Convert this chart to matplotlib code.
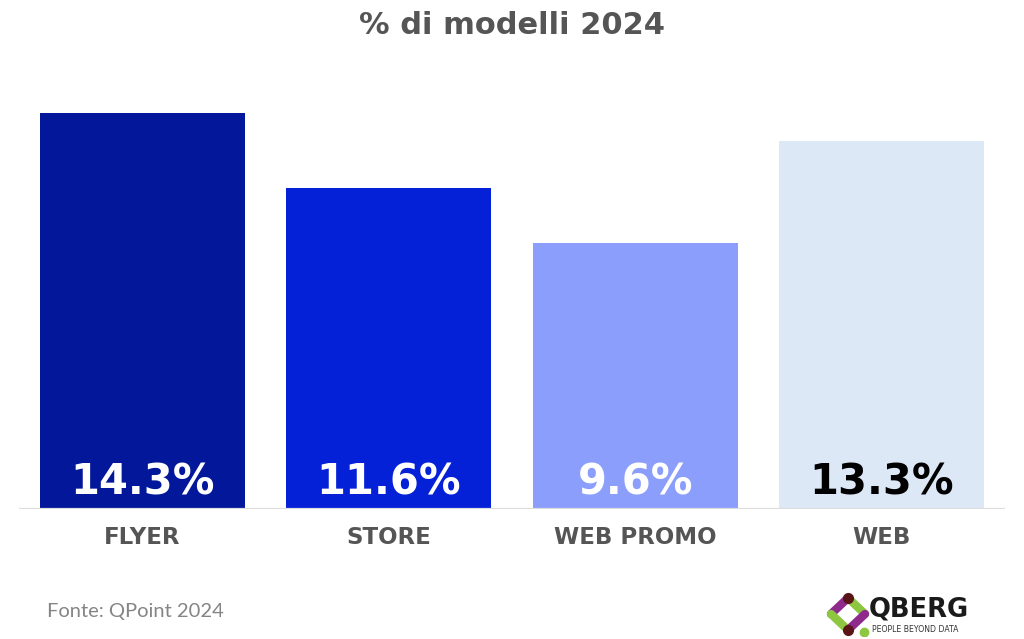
"""Bar chart: % di modelli 2024 per canale."""

import matplotlib

matplotlib.use("Agg")
import matplotlib.pyplot as plt

categories = ["FLYER", "STORE", "WEB PROMO", "WEB"]
values = [14.3, 11.6, 9.6, 13.3]
bar_colors = ["#03179A", "#0521D8", "#8C9EFC", "#DCE8F6"]
label_colors = ["white", "white", "white", "black"]

title = "% di modelli 2024"
source = "Fonte: QPoint 2024"

W, H = 1024, 639
fig = plt.figure(figsize=(W / 100, H / 100), dpi=100)
fig.patch.set_facecolor("white")

# main axes placed in pixel terms of the reference
ax = fig.add_axes([19 / W, 130 / H, 986 / W, 443 / H])
x = range(len(categories))
ax.bar(x, values, width=0.832, color=bar_colors, zorder=2)
ax.set_xlim(-0.5, len(categories) - 0.5)
ax.set_ylim(0, 16)
ax.axhline(0, color="#DDDDDD", lw=1.6, zorder=3)
for s in ax.spines.values():
    s.set_visible(False)
ax.set_yticks([])
ax.set_xticks(list(x))
ax.set_xticklabels(categories, fontsize=16.5, fontweight="bold", color="#555555")
ax.tick_params(axis="x", length=0, pad=12)

for xi, v, c in zip(x, values, label_colors):
    ax.text(xi, 0.95, f"{v:.1f}%", ha="center", va="center", fontsize=30,
            fontweight="bold", color=c, zorder=4)

fig.text(0.5, 1 - 26 / H, title, ha="center", va="center", fontsize=22,
         fontweight="bold", color="#555555")
fig.text(47 / W, 1 - 611 / H, source, ha="left", va="center", fontsize=14.5,
         family=["Lato", "DejaVu Sans"], color="#858585")

# logo
lax = fig.add_axes([826 / W, 1 - 636 / H, 48 / W, 44 / H])
lax.set_xlim(0, 48)
lax.set_ylim(0, 44)
lax.axis("off")
top, bottom, left, right = (22, 38), (22, 6), (5, 22), (39, 22)
segs = [(top, left, "#8E2A8C"), (top, right, "#8DC63F"),
        (left, bottom, "#8DC63F"), (right, bottom, "#8E2A8C")]
for a, b, col in segs:
    lax.plot([a[0], b[0]], [a[1], b[1]], color=col, lw=6, solid_capstyle="round")
lax.plot([top[0], bottom[0]], [top[1], bottom[1]], "o", color="#5A1418", ms=7, ls="none")
lax.plot([38], [4], "o", color="#8DC63F", ms=6)

fig.text(869 / W, 1 - 610 / H, "QBERG", ha="left", va="center", fontsize=18.5,
         family="DejaVu Sans", fontweight="bold", color="#1A1A1A")
fig.text(872 / W, 1 - 629.5 / H, "PEOPLE BEYOND DATA", ha="left", va="center",
         fontsize=5.6, family="DejaVu Sans", color="#333333")

fig.savefig("out.png", dpi=100)
